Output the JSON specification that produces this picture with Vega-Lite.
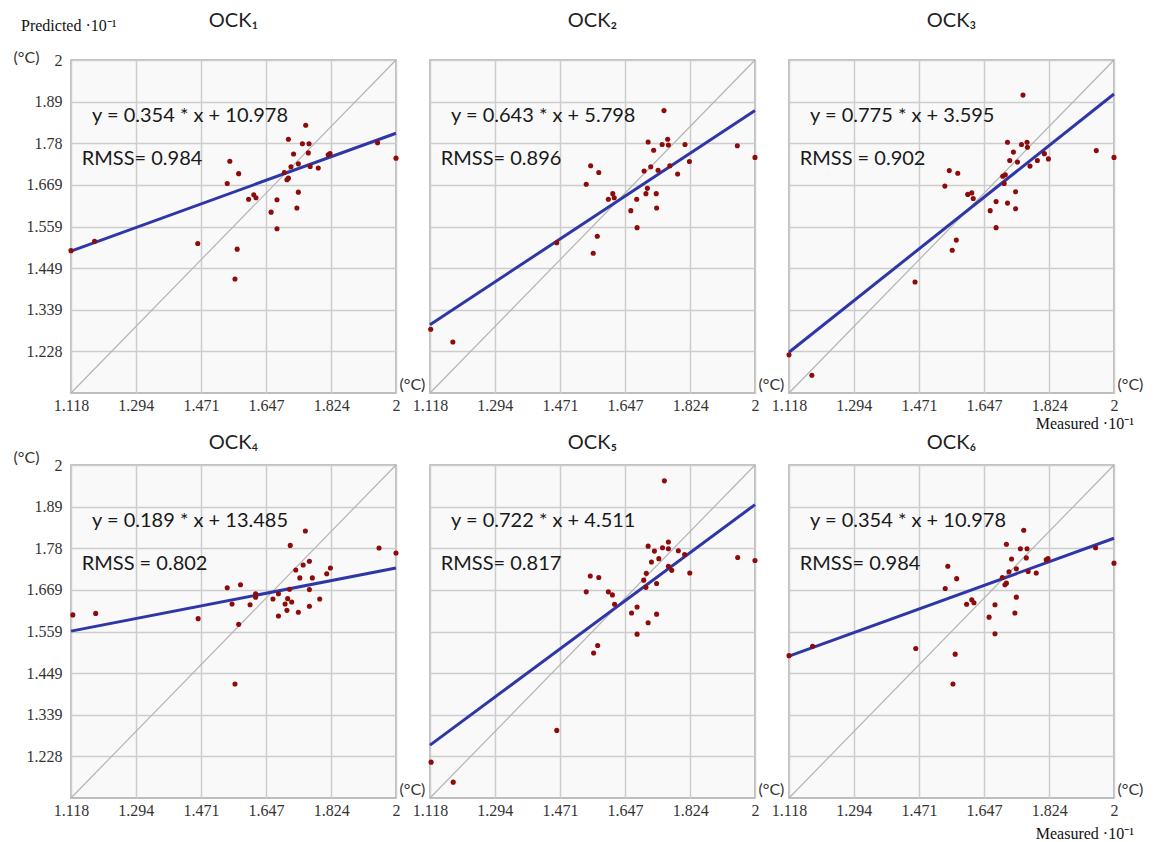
{
  "$schema": "https://vega.github.io/schema/vega-lite/v6.json",
  "padding": {"left": 13, "top": 11, "right": 5, "bottom": 5},
  "datasets": {
    "all": [
      {"panel": "OCK₁", "kind": "note", "eq": "y = 0.354 * x + 10.978", "rmss": "RMSS= 0.984"},
      {"panel": "OCK₂", "kind": "note", "eq": "y = 0.643 * x + 5.798", "rmss": "RMSS= 0.896"},
      {"panel": "OCK₃", "kind": "note", "eq": "y = 0.775 * x + 3.595", "rmss": "RMSS = 0.902"},
      {"panel": "OCK₄", "kind": "note", "eq": "y = 0.189 * x + 13.485", "rmss": "RMSS = 0.802"},
      {"panel": "OCK₅", "kind": "note", "eq": "y = 0.722 * x + 4.511", "rmss": "RMSS= 0.817"},
      {"panel": "OCK₆", "kind": "note", "eq": "y = 0.354 * x + 10.978", "rmss": "RMSS= 0.984"},
      {"panel": "OCK₁", "kind": "pred", "eq": "Predicted ·10⁻¹"},
      {"panel": "OCK₃", "kind": "meas", "eq": "Measured ·10⁻¹"},
      {"panel": "OCK₆", "kind": "meas", "eq": "Measured ·10⁻¹"},
      {"panel": "OCK₁", "kind": "fit", "x": 1.118, "y": 1.494},
      {"panel": "OCK₁", "kind": "fit", "x": 2, "y": 1.806},
      {"panel": "OCK₂", "kind": "fit", "x": 1.118, "y": 1.299},
      {"panel": "OCK₂", "kind": "fit", "x": 2, "y": 1.866},
      {"panel": "OCK₃", "kind": "fit", "x": 1.118, "y": 1.226},
      {"panel": "OCK₃", "kind": "fit", "x": 2, "y": 1.91},
      {"panel": "OCK₄", "kind": "fit", "x": 1.118, "y": 1.56},
      {"panel": "OCK₄", "kind": "fit", "x": 2, "y": 1.727},
      {"panel": "OCK₅", "kind": "fit", "x": 1.118, "y": 1.258},
      {"panel": "OCK₅", "kind": "fit", "x": 2, "y": 1.895},
      {"panel": "OCK₆", "kind": "fit", "x": 1.118, "y": 1.494},
      {"panel": "OCK₆", "kind": "fit", "x": 2, "y": 1.806},

      {"panel": "OCK₁", "kind": "pt", "x": 1.118, "y": 1.495},
      {"panel": "OCK₁", "kind": "pt", "x": 1.182, "y": 1.52},
      {"panel": "OCK₁", "kind": "pt", "x": 1.462, "y": 1.514},
      {"panel": "OCK₁", "kind": "pt", "x": 1.542, "y": 1.673},
      {"panel": "OCK₁", "kind": "pt", "x": 1.549, "y": 1.732},
      {"panel": "OCK₁", "kind": "pt", "x": 1.573, "y": 1.699},
      {"panel": "OCK₁", "kind": "pt", "x": 1.569, "y": 1.499},
      {"panel": "OCK₁", "kind": "pt", "x": 1.563, "y": 1.42},
      {"panel": "OCK₁", "kind": "pt", "x": 1.6, "y": 1.631},
      {"panel": "OCK₁", "kind": "pt", "x": 1.614, "y": 1.643},
      {"panel": "OCK₁", "kind": "pt", "x": 1.62, "y": 1.635},
      {"panel": "OCK₁", "kind": "pt", "x": 1.661, "y": 1.597},
      {"panel": "OCK₁", "kind": "pt", "x": 1.677, "y": 1.63},
      {"panel": "OCK₁", "kind": "pt", "x": 1.677, "y": 1.553},
      {"panel": "OCK₁", "kind": "pt", "x": 1.697, "y": 1.702},
      {"panel": "OCK₁", "kind": "pt", "x": 1.704, "y": 1.683},
      {"panel": "OCK₁", "kind": "pt", "x": 1.708, "y": 1.687},
      {"panel": "OCK₁", "kind": "pt", "x": 1.708, "y": 1.79},
      {"panel": "OCK₁", "kind": "pt", "x": 1.715, "y": 1.717},
      {"panel": "OCK₁", "kind": "pt", "x": 1.722, "y": 1.751},
      {"panel": "OCK₁", "kind": "pt", "x": 1.731, "y": 1.608},
      {"panel": "OCK₁", "kind": "pt", "x": 1.735, "y": 1.65},
      {"panel": "OCK₁", "kind": "pt", "x": 1.735, "y": 1.725},
      {"panel": "OCK₁", "kind": "pt", "x": 1.746, "y": 1.778},
      {"panel": "OCK₁", "kind": "pt", "x": 1.755, "y": 1.827},
      {"panel": "OCK₁", "kind": "pt", "x": 1.764, "y": 1.778},
      {"panel": "OCK₁", "kind": "pt", "x": 1.762, "y": 1.754},
      {"panel": "OCK₁", "kind": "pt", "x": 1.767, "y": 1.718},
      {"panel": "OCK₁", "kind": "pt", "x": 1.789, "y": 1.714},
      {"panel": "OCK₁", "kind": "pt", "x": 1.816, "y": 1.749},
      {"panel": "OCK₁", "kind": "pt", "x": 1.821, "y": 1.752},
      {"panel": "OCK₁", "kind": "pt", "x": 1.95, "y": 1.781},
      {"panel": "OCK₁", "kind": "pt", "x": 2.0, "y": 1.74},

      {"panel": "OCK₂", "kind": "pt", "x": 1.12, "y": 1.287},
      {"panel": "OCK₂", "kind": "pt", "x": 1.18, "y": 1.253},
      {"panel": "OCK₂", "kind": "pt", "x": 1.462, "y": 1.516},
      {"panel": "OCK₂", "kind": "pt", "x": 1.542, "y": 1.671},
      {"panel": "OCK₂", "kind": "pt", "x": 1.554, "y": 1.72},
      {"panel": "OCK₂", "kind": "pt", "x": 1.576, "y": 1.702},
      {"panel": "OCK₂", "kind": "pt", "x": 1.572, "y": 1.533},
      {"panel": "OCK₂", "kind": "pt", "x": 1.561, "y": 1.488},
      {"panel": "OCK₂", "kind": "pt", "x": 1.602, "y": 1.631},
      {"panel": "OCK₂", "kind": "pt", "x": 1.614, "y": 1.646},
      {"panel": "OCK₂", "kind": "pt", "x": 1.618, "y": 1.635},
      {"panel": "OCK₂", "kind": "pt", "x": 1.663, "y": 1.601},
      {"panel": "OCK₂", "kind": "pt", "x": 1.679, "y": 1.631},
      {"panel": "OCK₂", "kind": "pt", "x": 1.68, "y": 1.556},
      {"panel": "OCK₂", "kind": "pt", "x": 1.699, "y": 1.706},
      {"panel": "OCK₂", "kind": "pt", "x": 1.704, "y": 1.646},
      {"panel": "OCK₂", "kind": "pt", "x": 1.708, "y": 1.66},
      {"panel": "OCK₂", "kind": "pt", "x": 1.71, "y": 1.783},
      {"panel": "OCK₂", "kind": "pt", "x": 1.717, "y": 1.717},
      {"panel": "OCK₂", "kind": "pt", "x": 1.725, "y": 1.761},
      {"panel": "OCK₂", "kind": "pt", "x": 1.732, "y": 1.646},
      {"panel": "OCK₂", "kind": "pt", "x": 1.733, "y": 1.608},
      {"panel": "OCK₂", "kind": "pt", "x": 1.737, "y": 1.708},
      {"panel": "OCK₂", "kind": "pt", "x": 1.748, "y": 1.776},
      {"panel": "OCK₂", "kind": "pt", "x": 1.753, "y": 1.866},
      {"panel": "OCK₂", "kind": "pt", "x": 1.763, "y": 1.79},
      {"panel": "OCK₂", "kind": "pt", "x": 1.765, "y": 1.775},
      {"panel": "OCK₂", "kind": "pt", "x": 1.769, "y": 1.72},
      {"panel": "OCK₂", "kind": "pt", "x": 1.79, "y": 1.698},
      {"panel": "OCK₂", "kind": "pt", "x": 1.81, "y": 1.776},
      {"panel": "OCK₂", "kind": "pt", "x": 1.822, "y": 1.731},
      {"panel": "OCK₂", "kind": "pt", "x": 1.952, "y": 1.773},
      {"panel": "OCK₂", "kind": "pt", "x": 2.0, "y": 1.742},

      {"panel": "OCK₃", "kind": "pt", "x": 1.118, "y": 1.219},
      {"panel": "OCK₃", "kind": "pt", "x": 1.18, "y": 1.165},
      {"panel": "OCK₃", "kind": "pt", "x": 1.46, "y": 1.412},
      {"panel": "OCK₃", "kind": "pt", "x": 1.541, "y": 1.666},
      {"panel": "OCK₃", "kind": "pt", "x": 1.553, "y": 1.707},
      {"panel": "OCK₃", "kind": "pt", "x": 1.576, "y": 1.7},
      {"panel": "OCK₃", "kind": "pt", "x": 1.572, "y": 1.523},
      {"panel": "OCK₃", "kind": "pt", "x": 1.561, "y": 1.496},
      {"panel": "OCK₃", "kind": "pt", "x": 1.603, "y": 1.644},
      {"panel": "OCK₃", "kind": "pt", "x": 1.614, "y": 1.648},
      {"panel": "OCK₃", "kind": "pt", "x": 1.618, "y": 1.633},
      {"panel": "OCK₃", "kind": "pt", "x": 1.664, "y": 1.601},
      {"panel": "OCK₃", "kind": "pt", "x": 1.68, "y": 1.625},
      {"panel": "OCK₃", "kind": "pt", "x": 1.68, "y": 1.556},
      {"panel": "OCK₃", "kind": "pt", "x": 1.698, "y": 1.692},
      {"panel": "OCK₃", "kind": "pt", "x": 1.702, "y": 1.673},
      {"panel": "OCK₃", "kind": "pt", "x": 1.705, "y": 1.696},
      {"panel": "OCK₃", "kind": "pt", "x": 1.711, "y": 1.621},
      {"panel": "OCK₃", "kind": "pt", "x": 1.711, "y": 1.782},
      {"panel": "OCK₃", "kind": "pt", "x": 1.717, "y": 1.734},
      {"panel": "OCK₃", "kind": "pt", "x": 1.727, "y": 1.756},
      {"panel": "OCK₃", "kind": "pt", "x": 1.733, "y": 1.651},
      {"panel": "OCK₃", "kind": "pt", "x": 1.733, "y": 1.606},
      {"panel": "OCK₃", "kind": "pt", "x": 1.738, "y": 1.73},
      {"panel": "OCK₃", "kind": "pt", "x": 1.749, "y": 1.776},
      {"panel": "OCK₃", "kind": "pt", "x": 1.753, "y": 1.907},
      {"panel": "OCK₃", "kind": "pt", "x": 1.764, "y": 1.782},
      {"panel": "OCK₃", "kind": "pt", "x": 1.765, "y": 1.769},
      {"panel": "OCK₃", "kind": "pt", "x": 1.772, "y": 1.719},
      {"panel": "OCK₃", "kind": "pt", "x": 1.792, "y": 1.734},
      {"panel": "OCK₃", "kind": "pt", "x": 1.811, "y": 1.752},
      {"panel": "OCK₃", "kind": "pt", "x": 1.822, "y": 1.738},
      {"panel": "OCK₃", "kind": "pt", "x": 1.952, "y": 1.76},
      {"panel": "OCK₃", "kind": "pt", "x": 2.0, "y": 1.742},

      {"panel": "OCK₄", "kind": "pt", "x": 1.123, "y": 1.603},
      {"panel": "OCK₄", "kind": "pt", "x": 1.185, "y": 1.607},
      {"panel": "OCK₄", "kind": "pt", "x": 1.463, "y": 1.593},
      {"panel": "OCK₄", "kind": "pt", "x": 1.542, "y": 1.675},
      {"panel": "OCK₄", "kind": "pt", "x": 1.555, "y": 1.632},
      {"panel": "OCK₄", "kind": "pt", "x": 1.578, "y": 1.683},
      {"panel": "OCK₄", "kind": "pt", "x": 1.573, "y": 1.578},
      {"panel": "OCK₄", "kind": "pt", "x": 1.563, "y": 1.42},
      {"panel": "OCK₄", "kind": "pt", "x": 1.604, "y": 1.63},
      {"panel": "OCK₄", "kind": "pt", "x": 1.619, "y": 1.659},
      {"panel": "OCK₄", "kind": "pt", "x": 1.619, "y": 1.65},
      {"panel": "OCK₄", "kind": "pt", "x": 1.666, "y": 1.645},
      {"panel": "OCK₄", "kind": "pt", "x": 1.681, "y": 1.659},
      {"panel": "OCK₄", "kind": "pt", "x": 1.681, "y": 1.6},
      {"panel": "OCK₄", "kind": "pt", "x": 1.699, "y": 1.632},
      {"panel": "OCK₄", "kind": "pt", "x": 1.704, "y": 1.615},
      {"panel": "OCK₄", "kind": "pt", "x": 1.706, "y": 1.646},
      {"panel": "OCK₄", "kind": "pt", "x": 1.711, "y": 1.671},
      {"panel": "OCK₄", "kind": "pt", "x": 1.713, "y": 1.787},
      {"panel": "OCK₄", "kind": "pt", "x": 1.717, "y": 1.637},
      {"panel": "OCK₄", "kind": "pt", "x": 1.728, "y": 1.722},
      {"panel": "OCK₄", "kind": "pt", "x": 1.735, "y": 1.61},
      {"panel": "OCK₄", "kind": "pt", "x": 1.739, "y": 1.701},
      {"panel": "OCK₄", "kind": "pt", "x": 1.748, "y": 1.735},
      {"panel": "OCK₄", "kind": "pt", "x": 1.754, "y": 1.825},
      {"panel": "OCK₄", "kind": "pt", "x": 1.765, "y": 1.745},
      {"panel": "OCK₄", "kind": "pt", "x": 1.765, "y": 1.67},
      {"panel": "OCK₄", "kind": "pt", "x": 1.765, "y": 1.626},
      {"panel": "OCK₄", "kind": "pt", "x": 1.773, "y": 1.701},
      {"panel": "OCK₄", "kind": "pt", "x": 1.793, "y": 1.645},
      {"panel": "OCK₄", "kind": "pt", "x": 1.812, "y": 1.712},
      {"panel": "OCK₄", "kind": "pt", "x": 1.822, "y": 1.727},
      {"panel": "OCK₄", "kind": "pt", "x": 1.954, "y": 1.78},
      {"panel": "OCK₄", "kind": "pt", "x": 2.0, "y": 1.767},

      {"panel": "OCK₅", "kind": "pt", "x": 1.121, "y": 1.213},
      {"panel": "OCK₅", "kind": "pt", "x": 1.181, "y": 1.16},
      {"panel": "OCK₅", "kind": "pt", "x": 1.462, "y": 1.297},
      {"panel": "OCK₅", "kind": "pt", "x": 1.542, "y": 1.664},
      {"panel": "OCK₅", "kind": "pt", "x": 1.553, "y": 1.706},
      {"panel": "OCK₅", "kind": "pt", "x": 1.576, "y": 1.702},
      {"panel": "OCK₅", "kind": "pt", "x": 1.573, "y": 1.522},
      {"panel": "OCK₅", "kind": "pt", "x": 1.562, "y": 1.502},
      {"panel": "OCK₅", "kind": "pt", "x": 1.602, "y": 1.664},
      {"panel": "OCK₅", "kind": "pt", "x": 1.613, "y": 1.656},
      {"panel": "OCK₅", "kind": "pt", "x": 1.619, "y": 1.631},
      {"panel": "OCK₅", "kind": "pt", "x": 1.665, "y": 1.608},
      {"panel": "OCK₅", "kind": "pt", "x": 1.68, "y": 1.624},
      {"panel": "OCK₅", "kind": "pt", "x": 1.68, "y": 1.552},
      {"panel": "OCK₅", "kind": "pt", "x": 1.698, "y": 1.695},
      {"panel": "OCK₅", "kind": "pt", "x": 1.704, "y": 1.676},
      {"panel": "OCK₅", "kind": "pt", "x": 1.705, "y": 1.713},
      {"panel": "OCK₅", "kind": "pt", "x": 1.71, "y": 1.582},
      {"panel": "OCK₅", "kind": "pt", "x": 1.71, "y": 1.785},
      {"panel": "OCK₅", "kind": "pt", "x": 1.719, "y": 1.743},
      {"panel": "OCK₅", "kind": "pt", "x": 1.727, "y": 1.772},
      {"panel": "OCK₅", "kind": "pt", "x": 1.733, "y": 1.686},
      {"panel": "OCK₅", "kind": "pt", "x": 1.733, "y": 1.605},
      {"panel": "OCK₅", "kind": "pt", "x": 1.739, "y": 1.752},
      {"panel": "OCK₅", "kind": "pt", "x": 1.749, "y": 1.781},
      {"panel": "OCK₅", "kind": "pt", "x": 1.754, "y": 1.958},
      {"panel": "OCK₅", "kind": "pt", "x": 1.765, "y": 1.796},
      {"panel": "OCK₅", "kind": "pt", "x": 1.765, "y": 1.778},
      {"panel": "OCK₅", "kind": "pt", "x": 1.765, "y": 1.732},
      {"panel": "OCK₅", "kind": "pt", "x": 1.774, "y": 1.721},
      {"panel": "OCK₅", "kind": "pt", "x": 1.792, "y": 1.773},
      {"panel": "OCK₅", "kind": "pt", "x": 1.809, "y": 1.763},
      {"panel": "OCK₅", "kind": "pt", "x": 1.823, "y": 1.714},
      {"panel": "OCK₅", "kind": "pt", "x": 1.953, "y": 1.755},
      {"panel": "OCK₅", "kind": "pt", "x": 2.0, "y": 1.747},

      {"panel": "OCK₆", "kind": "pt", "x": 1.118, "y": 1.495},
      {"panel": "OCK₆", "kind": "pt", "x": 1.182, "y": 1.52},
      {"panel": "OCK₆", "kind": "pt", "x": 1.462, "y": 1.514},
      {"panel": "OCK₆", "kind": "pt", "x": 1.542, "y": 1.673},
      {"panel": "OCK₆", "kind": "pt", "x": 1.549, "y": 1.732},
      {"panel": "OCK₆", "kind": "pt", "x": 1.573, "y": 1.699},
      {"panel": "OCK₆", "kind": "pt", "x": 1.569, "y": 1.499},
      {"panel": "OCK₆", "kind": "pt", "x": 1.563, "y": 1.42},
      {"panel": "OCK₆", "kind": "pt", "x": 1.6, "y": 1.631},
      {"panel": "OCK₆", "kind": "pt", "x": 1.614, "y": 1.643},
      {"panel": "OCK₆", "kind": "pt", "x": 1.62, "y": 1.635},
      {"panel": "OCK₆", "kind": "pt", "x": 1.661, "y": 1.597},
      {"panel": "OCK₆", "kind": "pt", "x": 1.677, "y": 1.63},
      {"panel": "OCK₆", "kind": "pt", "x": 1.677, "y": 1.553},
      {"panel": "OCK₆", "kind": "pt", "x": 1.697, "y": 1.702},
      {"panel": "OCK₆", "kind": "pt", "x": 1.704, "y": 1.683},
      {"panel": "OCK₆", "kind": "pt", "x": 1.708, "y": 1.687},
      {"panel": "OCK₆", "kind": "pt", "x": 1.708, "y": 1.79},
      {"panel": "OCK₆", "kind": "pt", "x": 1.715, "y": 1.717},
      {"panel": "OCK₆", "kind": "pt", "x": 1.722, "y": 1.751},
      {"panel": "OCK₆", "kind": "pt", "x": 1.731, "y": 1.608},
      {"panel": "OCK₆", "kind": "pt", "x": 1.735, "y": 1.65},
      {"panel": "OCK₆", "kind": "pt", "x": 1.735, "y": 1.725},
      {"panel": "OCK₆", "kind": "pt", "x": 1.746, "y": 1.778},
      {"panel": "OCK₆", "kind": "pt", "x": 1.755, "y": 1.827},
      {"panel": "OCK₆", "kind": "pt", "x": 1.764, "y": 1.778},
      {"panel": "OCK₆", "kind": "pt", "x": 1.762, "y": 1.754},
      {"panel": "OCK₆", "kind": "pt", "x": 1.767, "y": 1.718},
      {"panel": "OCK₆", "kind": "pt", "x": 1.789, "y": 1.714},
      {"panel": "OCK₆", "kind": "pt", "x": 1.816, "y": 1.749},
      {"panel": "OCK₆", "kind": "pt", "x": 1.821, "y": 1.752},
      {"panel": "OCK₆", "kind": "pt", "x": 1.95, "y": 1.781},
      {"panel": "OCK₆", "kind": "pt", "x": 2.0, "y": 1.74}
    ]
  },
  "data": {"name": "all"},
  "spacing": 0,
  "vconcat": [
    {
      "transform": [{"filter": "indexof(['OCK₁','OCK₂','OCK₃'], datum.panel) >= 0"}],
      "facet": {"column": {"field": "panel", "type": "nominal", "header": {"title": null, "labelPadding": 19}}},
      "spacing": 34,
      "bounds": "flush",
      "spec": {
        "width": 325,
        "height": 333,
        "layer": [
          {
            "transform": [{"filter": "datum.kind == 'note'"}],
            "mark": {"type": "rule", "color": "#b4b4b4", "strokeWidth": 1.2},
            "encoding": {"x": {"datum": 1.118, "type": "quantitative"}, "y": {"datum": 1.118, "type": "quantitative"}, "x2": {"datum": 2}, "y2": {"datum": 2}}
          },
          {
            "transform": [{"filter": "datum.kind == 'fit'"}],
            "mark": {"type": "line", "color": "#2f37a6", "strokeWidth": 3},
            "encoding": {"x": {"field": "x", "type": "quantitative"}, "y": {"field": "y", "type": "quantitative"}}
          },
          {
            "transform": [{"filter": "datum.kind == 'pt'"}],
            "mark": {"type": "circle", "color": "#8e0b0b", "size": 26, "opacity": 1},
            "encoding": {
              "x": {"field": "x", "type": "quantitative", "scale": {"domain": [1.118, 2], "nice": false, "zero": false},
                "axis": {"values": [1.118, 1.294, 1.471, 1.647, 1.824, 2], "format": ".4~g", "title": "(°C)", "titleX": 328, "titleY": -1, "titleAlign": "left", "titleBaseline": "bottom", "titleAnchor": null, "labelPadding": 4}},
              "y": {"field": "y", "type": "quantitative", "scale": {"domain": [1.118, 2], "nice": false, "zero": false},
                "axis": {"values": [1.228, 1.339, 1.449, 1.559, 1.669, 1.78, 1.89, 2], "format": ".4~g", "title": "(°C)", "titleAngle": 0, "titleX": -45, "titleY": -3, "titleAlign": "center", "titleBaseline": "middle", "titleAnchor": null, "labelPadding": 9}}
            }
          },
          {
            "transform": [{"filter": "datum.kind == 'note'"}],
            "mark": {"type": "text", "align": "left", "baseline": "middle", "font": "Lato", "fontSize": 20, "color": "#1a1a1a"},
            "encoding": {"x": {"datum": 1.175}, "y": {"datum": 1.851}, "text": {"field": "eq"}}
          },
          {
            "transform": [{"filter": "datum.kind == 'note'"}],
            "mark": {"type": "text", "align": "left", "baseline": "middle", "font": "Lato", "fontSize": 20, "color": "#1a1a1a"},
            "encoding": {"x": {"datum": 1.147}, "y": {"datum": 1.738}, "text": {"field": "rmss"}}
          },
          {
            "transform": [{"filter": "datum.kind == 'pred'"}],
            "mark": {"type": "text", "align": "left", "baseline": "middle", "font": "Liberation Serif", "fontSize": 16, "color": "#111", "dx": -50, "dy": -34},
            "encoding": {"x": {"datum": 1.118}, "y": {"datum": 2}, "text": {"field": "eq"}}
          },
          {
            "transform": [{"filter": "datum.kind == 'meas'"}],
            "mark": {"type": "text", "align": "right", "baseline": "middle", "font": "Liberation Serif", "fontSize": 16, "color": "#111", "dx": 20, "dy": 31},
            "encoding": {"x": {"datum": 2}, "y": {"datum": 1.118}, "text": {"field": "eq"}}
          }
        ]
      }
    },
    {
      "transform": [{"filter": "indexof(['OCK₄','OCK₅','OCK₆'], datum.panel) >= 0"}],
      "facet": {"column": {"field": "panel", "type": "nominal", "header": {"title": null, "labelPadding": 2}}},
      "spacing": 34,
      "bounds": "flush",
      "spec": {
        "width": 325,
        "height": 333,
        "layer": [
          {
            "transform": [{"filter": "datum.kind == 'note'"}],
            "mark": {"type": "rule", "color": "#b4b4b4", "strokeWidth": 1.2},
            "encoding": {"x": {"datum": 1.118, "type": "quantitative"}, "y": {"datum": 1.118, "type": "quantitative"}, "x2": {"datum": 2}, "y2": {"datum": 2}}
          },
          {
            "transform": [{"filter": "datum.kind == 'fit'"}],
            "mark": {"type": "line", "color": "#2f37a6", "strokeWidth": 3},
            "encoding": {"x": {"field": "x", "type": "quantitative"}, "y": {"field": "y", "type": "quantitative"}}
          },
          {
            "transform": [{"filter": "datum.kind == 'pt'"}],
            "mark": {"type": "circle", "color": "#8e0b0b", "size": 26, "opacity": 1},
            "encoding": {
              "x": {"field": "x", "type": "quantitative", "scale": {"domain": [1.118, 2], "nice": false, "zero": false},
                "axis": {"values": [1.118, 1.294, 1.471, 1.647, 1.824, 2], "format": ".4~g", "title": "(°C)", "titleX": 328, "titleY": -1, "titleAlign": "left", "titleBaseline": "bottom", "titleAnchor": null, "labelPadding": 4}},
              "y": {"field": "y", "type": "quantitative", "scale": {"domain": [1.118, 2], "nice": false, "zero": false},
                "axis": {"values": [1.228, 1.339, 1.449, 1.559, 1.669, 1.78, 1.89, 2], "format": ".4~g", "title": "(°C)", "titleAngle": 0, "titleX": -45, "titleY": -8, "titleAlign": "center", "titleBaseline": "middle", "titleAnchor": null, "labelPadding": 9}}
            }
          },
          {
            "transform": [{"filter": "datum.kind == 'note'"}],
            "mark": {"type": "text", "align": "left", "baseline": "middle", "font": "Lato", "fontSize": 20, "color": "#1a1a1a"},
            "encoding": {"x": {"datum": 1.175}, "y": {"datum": 1.851}, "text": {"field": "eq"}}
          },
          {
            "transform": [{"filter": "datum.kind == 'note'"}],
            "mark": {"type": "text", "align": "left", "baseline": "middle", "font": "Lato", "fontSize": 20, "color": "#1a1a1a"},
            "encoding": {"x": {"datum": 1.147}, "y": {"datum": 1.738}, "text": {"field": "rmss"}}
          },
          {
            "transform": [{"filter": "datum.kind == 'meas'"}],
            "mark": {"type": "text", "align": "right", "baseline": "middle", "font": "Liberation Serif", "fontSize": 16, "color": "#111", "dx": 20, "dy": 36},
            "encoding": {"x": {"datum": 2}, "y": {"datum": 1.118}, "text": {"field": "eq"}}
          }
        ]
      }
    }
  ],
  "config": {
    "background": "white",
    "view": {"stroke": "#a9a9a9", "strokeWidth": 1.5, "fill": "#f9f9f9"},
    "axis": {"grid": true, "gridColor": "#cdcdcd", "gridWidth": 1.5, "domain": false, "ticks": false, "tickSize": 0,
      "labelFlush": false, "labelOverlap": false,
      "labelFont": "Liberation Serif", "labelFontSize": 16, "labelColor": "#333",
      "titleFont": "Lato", "titleFontSize": 16, "titleFontWeight": "normal", "titleColor": "#333", "titlePadding": 0},
    "header": {"labelFont": "Lato", "labelFontSize": 20, "labelColor": "#222", "labelBaseline": "middle"}
  }
}
